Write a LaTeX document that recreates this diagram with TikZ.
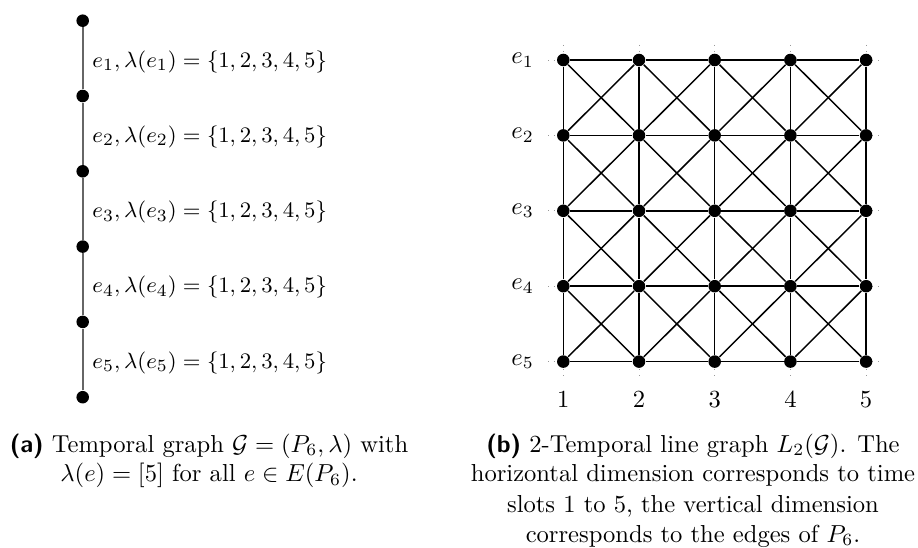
\documentclass[tikz,border=0pt]{standalone}
\usetikzlibrary{calc}
\begin{document}
\begin{tikzpicture}[x=0.407pt,y=-0.407pt,
  dot/.style={circle,fill=black,inner sep=0pt,minimum size=5.1pt},
  pathedge/.style={draw=black!60,line width=0.8pt},
  gridedge/.style={draw=black,line width=0.6pt},
  stub/.style={draw=black!40,dotted,line width=0.4pt},
  lbl/.style={inner sep=0pt},
  pathlbl/.style={inner sep=0pt,anchor=west,font=\fontsize{9.35pt}{11pt}\selectfont},
  capline/.style={inner sep=0pt,anchor=base}]
\useasboundingbox (0,0) rectangle (918,548);
% ---- (a) path P6 ----
\foreach \k in {0,...,5} {
  \node[dot] (p\k) at (82.7,{20.7+75.3*\k}) {};
}
\foreach \k [evaluate=\k as \n using {int(\k+1)}] in {0,...,4} {
  \draw[pathedge] (p\k) -- (p\n);
  \node[pathlbl] (l\n) at (92,{58.35+75.3*\k+3.2}) {$e_{\n},\lambda(e_{\n})=\{1,2,3,4,5\}$};
}
% ---- (b) grid ----
\foreach \i in {1,...,5} {
  \foreach \j in {1,...,5} {
    \coordinate (c\i\j) at ({563.3+75.7*(\i-1)},{60+75.4*(\j-1)});
  }
}
\foreach \j in {1,...,5} {
  \draw[stub] ($(c1\j)+(-15.3,0)$) -- ($(c5\j)+(16,0)$);
}
\foreach \i in {1,...,5} {
  \draw[stub] ($(c\i1)+(0,-15)$) -- ($(c\i5)+(0,16)$);
}
\foreach \i in {1,...,5} {
  \foreach \j in {1,...,5} {
    \node[dot] (g\i\j) at (c\i\j) {};
  }
}
\foreach \i [evaluate=\i as \n using {int(\i+1)}] in {1,...,4} {
  \foreach \j in {1,...,5} {
    \draw[gridedge] (g\i\j) -- (g\n\j);
  }
}
\foreach \i in {1,...,5} {
  \foreach \j [evaluate=\j as \m using {int(\j+1)}] in {1,...,4} {
    \draw[gridedge] (g\i\j) -- (g\i\m);
  }
}
\foreach \i [evaluate=\i as \n using {int(\i+1)}] in {1,...,4} {
  \foreach \j [evaluate=\j as \m using {int(\j+1)}] in {1,...,4} {
    \draw[gridedge] (g\i\j) -- (g\n\m);
    \draw[gridedge] (g\i\m) -- (g\n\j);
  }
}
\foreach \j in {1,...,5} {
  \node[lbl,anchor=east] (r\j) at ($(g1\j)+(-29,0)$) {$e_{\j}$};
}
\foreach \i in {1,...,5} {
  \node[lbl] (n\i) at ($(g\i5)+(0,38.3)$) {$\i$};
}
% ---- captions ----
\node[capline] (ca1) at (209,452) {\textsf{\textbf{(a)}} Temporal graph $\mathcal{G}=(P_6,\lambda)$ with};
\node[capline] (ca2) at (209,482) {$\lambda(e)=[5]$ for all $e\in E(P_6)$.};
\node[capline] (cb1) at (693,452) {\textsf{\textbf{(b)}} 2-Temporal line graph $L_2(\mathcal{G})$. The};
\node[capline] (cb2) at (693,482) {horizontal dimension corresponds to time};
\node[capline] (cb3) at (693,512) {slots 1 to 5, the vertical dimension};
\node[capline] (cb4) at (693,542) {corresponds to the edges of $P_6$.};
\end{tikzpicture}
\end{document}
